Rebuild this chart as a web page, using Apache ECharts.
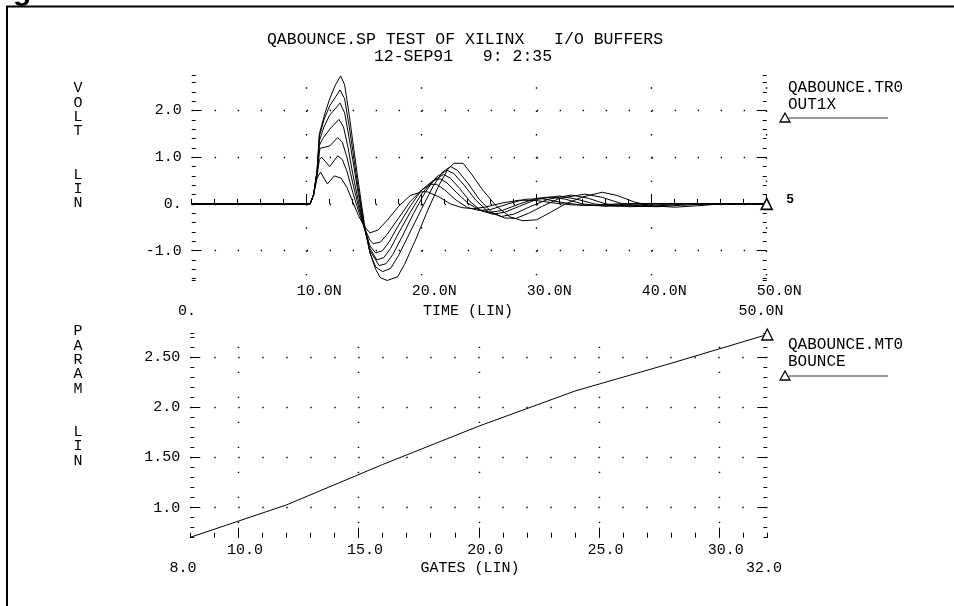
<!DOCTYPE html>
<html><head><meta charset="utf-8">
<script src="https://cdn.jsdelivr.net/npm/echarts@6/dist/echarts.min.js"></script>
<style>html,body{margin:0;padding:0;background:#fff}#c{width:954px;height:606px}</style>
</head><body><div id="c"></div>
<script>
// ---------- top panel: OUT1X transient for 7 gate counts (time in ns, volts) ----------
const out08 = [[0,0],[10.3,0],[10.6,0.2],[10.9,0.55],[11.2,0.68],[11.8,0.43],[12.4,0.6],[13.0,0.55],[13.5,0.35],[14.0,0.05],[14.5,-0.25],[15.0,-0.48],[15.5,-0.62],[16.2,-0.56],[17.0,-0.35],[18.0,-0.05],[19.0,0.18],[20.0,0.26],[20.5,0.26],[21.5,0.15],[22.5,0.0],[23.5,-0.08],[24.5,-0.1],[25.5,-0.07],[27,0.02],[28.5,0.08],[30,0.07],[31.5,0.02],[33,-0.02],[35,-0.03],[37,0],[40,0.01],[44,0],[50,0]];
const out12 = [[0,0],[10.3,0],[10.6,0.2],[10.9,0.6],[11.1,0.95],[11.3,1.0],[12.0,0.8],[12.7,1.03],[13.1,0.95],[13.5,0.7],[14.0,0.25],[14.5,-0.15],[15.0,-0.5],[15.5,-0.78],[15.8,-0.85],[16.4,-0.82],[17.0,-0.65],[18.0,-0.3],[19.0,0.05],[20.0,0.3],[20.8,0.42],[21.3,0.42],[22.0,0.3],[23.0,0.08],[24.0,-0.08],[25.0,-0.14],[26.0,-0.12],[27.5,0.0],[29.0,0.1],[30.5,0.11],[32,0.04],[34,-0.03],[36,-0.04],[38,0],[42,0.01],[50,0]];
const out16 = [[0,0],[10.3,0],[10.6,0.2],[10.9,0.65],[11.15,1.19],[12.0,1.24],[12.7,1.42],[13.1,1.32],[13.5,1.0],[14.0,0.45],[14.5,-0.05],[15.0,-0.5],[15.5,-0.9],[16.0,-1.05],[16.6,-1.0],[17.2,-0.8],[18.0,-0.45],[19.0,-0.05],[20.0,0.3],[21.0,0.5],[21.6,0.54],[22.2,0.45],[23.0,0.25],[24.0,0.02],[25.0,-0.13],[26.0,-0.18],[27.0,-0.14],[28.5,0.0],[30.0,0.12],[31.2,0.15],[32.5,0.1],[34,0.0],[36,-0.05],[38,-0.03],[41,0.01],[50,0]];
const out20 = [[0,0],[10.3,0],[10.6,0.2],[10.9,0.65],[11.1,1.25],[11.4,1.4],[12.0,1.6],[12.8,1.81],[13.2,1.65],[13.6,1.2],[14.0,0.65],[14.5,0.05],[15.0,-0.5],[15.5,-0.95],[16.1,-1.2],[16.7,-1.15],[17.3,-0.95],[18.0,-0.62],[19.0,-0.18],[20.0,0.22],[21.0,0.5],[21.9,0.63],[22.5,0.55],[23.3,0.33],[24.2,0.05],[25.2,-0.15],[26.2,-0.22],[27.2,-0.18],[28.5,-0.05],[30,0.1],[32.0,0.17],[33.5,0.1],[35,0.0],[37,-0.05],[39,-0.04],[42,0.0],[50,0]];
const out24 = [[0,0],[10.3,0],[10.6,0.2],[10.9,0.7],[11.1,1.35],[11.5,1.65],[12.0,1.9],[12.9,2.16],[13.3,1.95],[13.7,1.4],[14.0,0.95],[14.5,0.2],[15.0,-0.5],[15.5,-1.0],[16.3,-1.32],[16.9,-1.28],[17.5,-1.08],[18.3,-0.7],[19.3,-0.2],[20.3,0.25],[21.3,0.58],[22.2,0.72],[22.8,0.65],[23.7,0.4],[24.7,0.08],[25.8,-0.17],[26.9,-0.27],[28.0,-0.22],[29.5,-0.05],[31,0.1],[33.0,0.19],[34.5,0.12],[36,0.0],[38,-0.06],[40,-0.05],[43,0.0],[50,0.0]];
const out28 = [[0,0],[10.3,0],[10.6,0.2],[10.9,0.7],[11.1,1.45],[11.5,1.8],[12.0,2.1],[12.9,2.44],[13.3,2.25],[13.7,1.65],[14.0,1.15],[14.5,0.3],[15.0,-0.45],[15.5,-1.05],[16.0,-1.35],[16.6,-1.45],[17.3,-1.38],[18.0,-1.1],[19.0,-0.6],[20.0,-0.1],[21.0,0.38],[21.8,0.68],[22.5,0.8],[23.1,0.72],[24.0,0.45],[25.0,0.1],[26.1,-0.18],[27.2,-0.3],[28.2,-0.31],[29.3,-0.2],[30.5,-0.05],[32.0,0.12],[34.2,0.21],[35.7,0.14],[37.2,0.02],[39,-0.05],[40.5,-0.06],[42.5,-0.03],[45,0.0],[50,0.0]];
const out32 = [[0,0],[10.3,0],[10.6,0.2],[10.9,0.7],[11.1,1.5],[11.6,1.95],[12.0,2.25],[12.5,2.55],[12.95,2.74],[13.3,2.55],[13.7,1.9],[14.0,1.35],[14.5,0.45],[15.0,-0.4],[15.5,-1.05],[16.0,-1.4],[16.4,-1.58],[17.0,-1.64],[17.9,-1.56],[18.5,-1.3],[19.5,-0.75],[20.5,-0.15],[21.5,0.4],[22.3,0.75],[22.8,0.87],[23.6,0.87],[24.3,0.65],[25.3,0.3],[26.5,-0.05],[27.7,-0.28],[28.8,-0.36],[30.0,-0.34],[31.2,-0.18],[32.5,0.0],[34.0,0.15],[35.7,0.25],[37.0,0.18],[38.5,0.04],[40,-0.04],[42,-0.07],[44,-0.04],[46,0.0],[50,0.0]];
const outCurves = [out08, out12, out16, out20, out24, out28, out32];

// ---------- bottom panel: BOUNCE vs GATES ----------
const gatesCount = [8, 12, 16, 20, 24, 28, 32];
const bounceVolt = [0.704, 1.027, 1.43, 1.813, 2.163, 2.44, 2.727];

// ---------- axes ticks / labels ----------
const timeMajor = [10, 20, 30, 40, 50];
const timeLabels = ['10.0N', '20.0N', '30.0N', '40.0N', '50.0N'];
const voltMajor = [-1, 0, 1, 2];
const voltLabels = ['-1.0', '0.', '1.0', '2.0'];
const voltMinor = [-1.64, -1.6, -1.4, -1.2, -0.8, -0.6, -0.4, -0.2, 0.2, 0.4, 0.6, 0.8, 1.2, 1.4, 1.6, 1.8, 2.2, 2.4, 2.6, 2.75];
const gatesMajor = [10, 15, 20, 25, 30];
const gatesLabels = ['10.0', '15.0', '20.0', '25.0', '30.0'];
const paramMajor = [1.0, 1.5, 2.0, 2.5];
const paramLabels = ['1.0', '1.50', '2.0', '2.50'];
const paramMinor = [0.7, 0.8, 0.9, 1.1, 1.2, 1.3, 1.4, 1.6, 1.7, 1.8, 1.9, 2.1, 2.2, 2.3, 2.4, 2.6, 2.7, 2.735];

const FONT = 'Liberation Mono';
const BLACK = '#000';
const tickLine = {color: BLACK, width: 1};
const lbl = (vals, texts) => v => { const i = vals.findIndex(x => Math.abs(x - v) < 1e-6); return i >= 0 ? texts[i] : ''; };

function xMinor(grid, min, max, interval) {
  return {gridIndex: grid, type: 'value', min, max, interval, position: 'bottom',
    axisLine: {show: false}, axisTick: {show: true, inside: true, length: 5, lineStyle: tickLine},
    axisLabel: {show: false}, splitLine: {show: false}};
}
function xMajor(grid, min, max, vals, texts, padLeft, margin, dash, dashOffset) {
  return {gridIndex: grid, type: 'value', min, max, position: 'bottom',
    axisLine: {show: false},
    axisTick: {show: true, inside: true, length: 10, customValues: vals, lineStyle: tickLine},
    axisLabel: {show: true, customValues: vals, formatter: lbl(vals, texts), fontFamily: FONT, fontSize: 15, color: BLACK,
      margin, padding: [0, 0, 0, padLeft]},
    splitLine: {show: true, lineStyle: {color: BLACK, width: 1.4, type: dash, dashOffset}}};
}
function yMinor(grid, min, max, vals, pos) {
  return {gridIndex: grid, type: 'value', min, max, position: pos,
    axisLine: {show: false}, axisTick: {show: true, inside: true, length: 4, customValues: vals, lineStyle: tickLine},
    axisLabel: {show: false}, splitLine: {show: false}};
}
function yMajor(grid, min, max, vals, texts, pos, withLabel, dash) {
  return {gridIndex: grid, type: 'value', min, max, position: pos,
    axisLine: {show: false},
    axisTick: {show: true, inside: true, length: 10, customValues: vals, lineStyle: tickLine},
    axisLabel: {show: withLabel, customValues: vals, formatter: lbl(vals, texts), fontFamily: FONT, fontSize: 15, color: BLACK,
      margin: 10, padding: [12, 0, 0, 0]},
    splitLine: {show: withLabel, lineStyle: {color: BLACK, width: 1.4, type: dash}}};
}

const V_MIN = -1.64, V_MAX = 2.75, P_MIN = 0.70, P_MAX = 2.735;

const series = outCurves.map((d, k) => ({
  type: 'line', xAxisIndex: 0, yAxisIndex: 0, data: d,
  showSymbol: k === 0, symbol: (val, p) => (p.dataIndex === d.length - 1 ? 'triangle' : 'none'),
  symbolSize: 11, itemStyle: {color: '#fff', borderColor: BLACK, borderWidth: 1.6},
  lineStyle: {color: BLACK, width: 1}, silent: true, z: 3
}));
series.push({
  type: 'line', xAxisIndex: 2, yAxisIndex: 4, data: gatesCount.map((g, i) => [g, bounceVolt[i]]),
  showSymbol: true, symbol: (val, p) => (p.dataIndex === gatesCount.length - 1 ? 'triangle' : 'none'),
  symbolSize: 11, itemStyle: {color: '#fff', borderColor: BLACK, borderWidth: 1.3},
  lineStyle: {color: BLACK, width: 1}, silent: true, z: 3
});

const txt = (x, y, text, extra) => ({type: 'text', x, y, silent: true,
  style: Object.assign({text, fill: BLACK, font: '15px "' + FONT + '"', textAlign: 'center', textVerticalAlign: 'middle'}, extra || {})});
const tri = (x, y) => ({type: 'polygon', silent: true, shape: {points: [[x, y - 5], [x - 5, y + 4], [x + 5, y + 4]]},
  style: {fill: '#fff', stroke: BLACK, lineWidth: 1.3}});
const seg = (x1, y1, x2, y2) => ({type: 'line', silent: true, shape: {x1, y1, x2, y2}, style: {stroke: '#333', lineWidth: 1}});

const option = {
  animation: false,
  backgroundColor: '#fff',
  grid: [
    {left: 191.7, top: 75.5, width: 575, height: 205, outerBoundsMode: 'none', containLabel: false},
    {left: 190.3, top: 333.7, width: 577, height: 204, outerBoundsMode: 'none', containLabel: false}
  ],
  xAxis: [
    xMinor(0, 0, 50, 2),
    xMajor(0, 0, 50, timeMajor, timeLabels, 25, 3, [1.4, 21.93], 11.5),
    xMinor(1, 8, 32, 1),
    xMajor(1, 8, 32, gatesMajor, gatesLabels, 13, 5, [1.4, 23.6], 12)
  ],
  yAxis: [
    yMinor(0, V_MIN, V_MAX, voltMinor, 'left'),
    yMajor(0, V_MIN, V_MAX, voltMajor, voltLabels, 'left', true, [1.4, 21.6]),
    yMinor(0, V_MIN, V_MAX, voltMinor, 'right'),
    yMajor(0, V_MIN, V_MAX, voltMajor, voltLabels, 'right', false, 'solid'),
    yMinor(1, P_MIN, P_MAX, paramMinor, 'left'),
    yMajor(1, P_MIN, P_MAX, paramMajor, paramLabels, 'left', true, [1.4, 22.6]),
    yMinor(1, P_MIN, P_MAX, paramMinor, 'right'),
    yMajor(1, P_MIN, P_MAX, paramMajor, paramLabels, 'right', false, 'solid')
  ],
  series,
  graphic: {elements: [
    {type: 'rect', silent: true, shape: {x: 7, y: 6.5, width: 1000, height: 700}, style: {fill: 'none', stroke: BLACK, lineWidth: 2}},
    {type: 'text', x: 13, y: 7, silent: true, style: {text: 'g', fill: BLACK, font: 'bold 30px "Liberation Sans"', textAlign: 'left', textVerticalAlign: 'bottom'}},
    txt(465, 40, 'QABOUNCE.SP TEST OF XILINX   I/O BUFFERS', {font: '16.5px "' + FONT + '"'}),
    txt(463, 57, '12-SEP91   9: 2:35', {font: '16.5px "' + FONT + '"'}),
    txt(78, 81, 'V\nO\nL\nT\n\n\nL\nI\nN', {textVerticalAlign: 'top', lineHeight: 14.4}),
    txt(78, 324, 'P\nA\nR\nA\nM\n\n\nL\nI\nN', {textVerticalAlign: 'top', lineHeight: 14.4}),
    txt(187, 311, '0.'),
    txt(468, 311, 'TIME (LIN)'),
    txt(761, 311, '50.0N'),
    txt(183, 568, '8.0'),
    txt(470, 568, 'GATES (LIN)'),
    txt(764, 568, '32.0'),
    txt(788, 88, 'QABOUNCE.TR0', {textAlign: 'left', font: '16px "' + FONT + '"'}),
    txt(788, 105, 'OUT1X', {textAlign: 'left', font: '16px "' + FONT + '"'}),
    seg(789, 118, 888, 118), tri(785, 118),
    txt(790, 199, '5', {textAlign: 'center', font: 'bold 13px "Liberation Sans"'}),
    txt(788, 345, 'QABOUNCE.MT0', {textAlign: 'left', font: '16px "' + FONT + '"'}),
    txt(788, 362, 'BOUNCE', {textAlign: 'left', font: '16px "' + FONT + '"'}),
    seg(789, 376, 888, 376), tri(785, 376)
  ]}
};

const chart = echarts.init(document.getElementById('c'), null, {renderer: 'canvas'});
chart.setOption(option);
</script>
</body></html>
